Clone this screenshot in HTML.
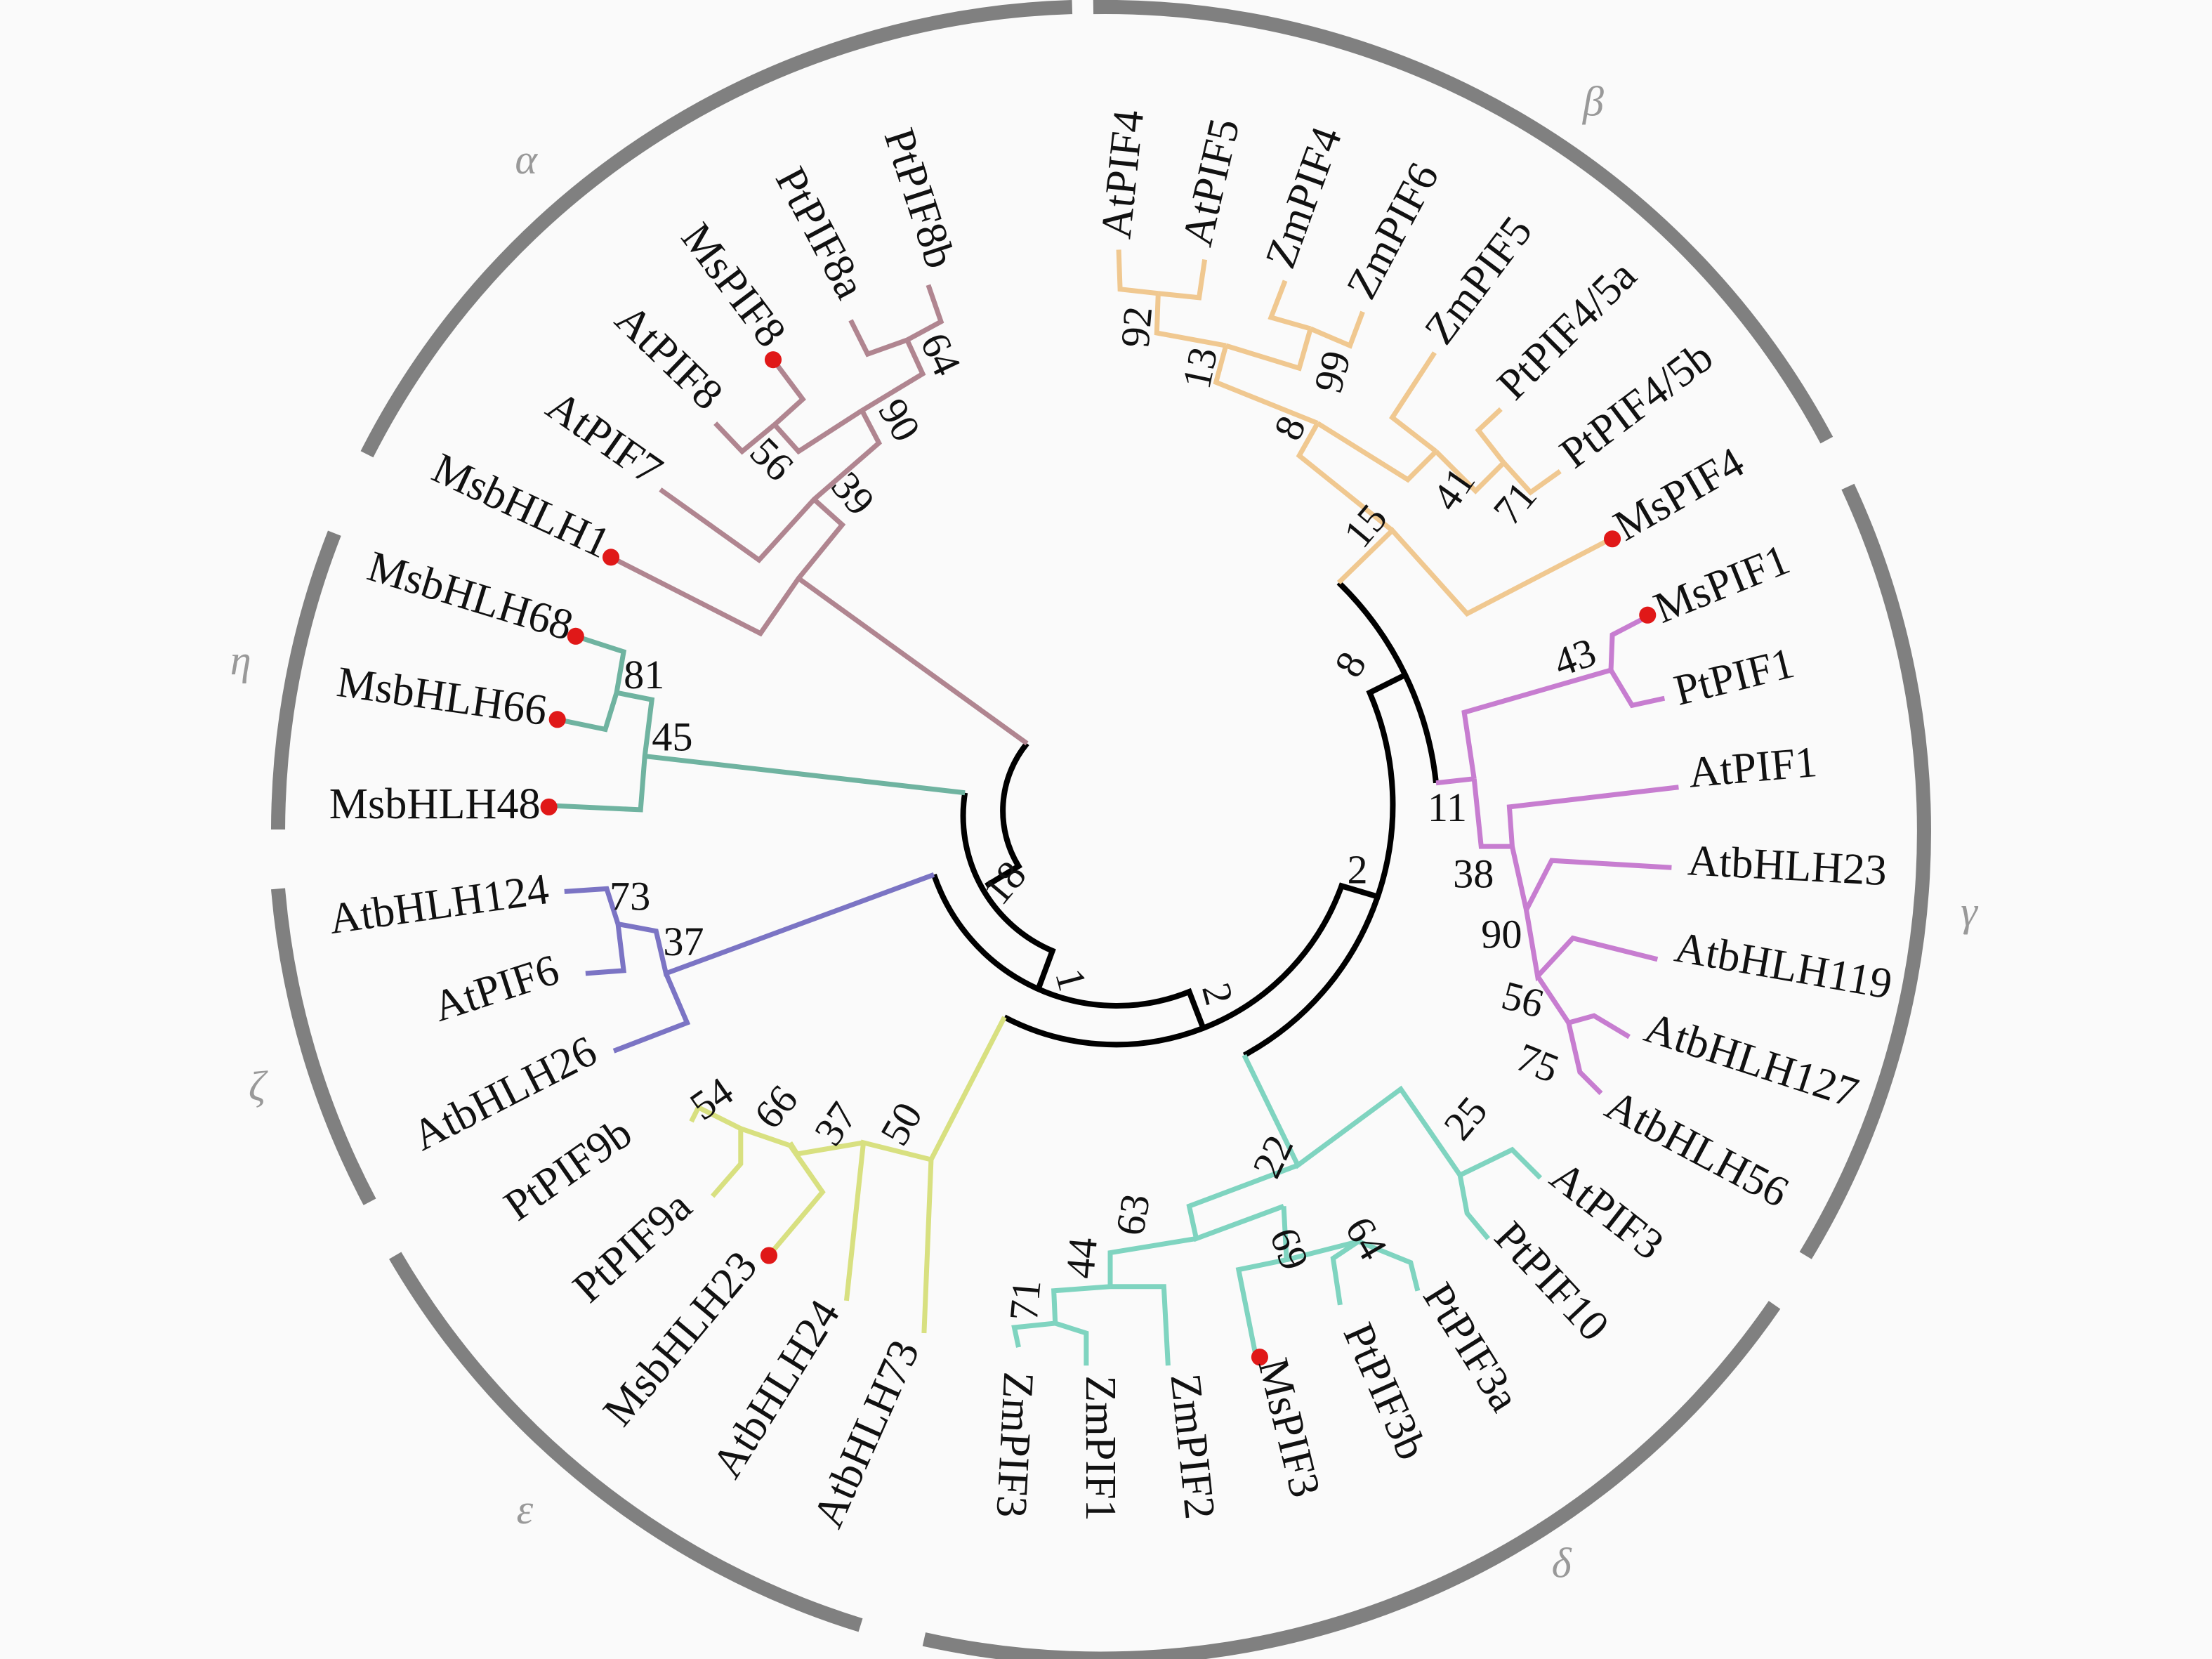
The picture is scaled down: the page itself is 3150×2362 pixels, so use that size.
<!DOCTYPE html>
<html><head><meta charset="utf-8"><style>
html,body{margin:0;padding:0;background:#fafafa;}
svg{display:block}
text{font-family:"Liberation Serif",serif;fill:#111;}
.l{font-size:31px}
.n{font-size:29px}
.g{font-size:30px;fill:#999;font-style:italic}
</style></head><body>
<svg width="3150" height="2362" viewBox="0 0 1568 1176" xmlns="http://www.w3.org/2000/svg">
<rect width="1568" height="1176" fill="#fafafa"/>
<g fill="none" stroke="#808080" stroke-width="10">
<path d="M775,5 A580,580 0 0 1 1295,312"/>
<path d="M1310,345 A580,580 0 0 1 1280,890"/>
<path d="M1258,925 A580,580 0 0 1 655,1162"/>
<path d="M610,1152 A580,580 0 0 1 280,890"/>
<path d="M262,852 A580,580 0 0 1 197,630"/>
<path d="M197,588 A580,580 0 0 1 237,378"/>
<path d="M260,322 A580,580 0 0 1 760,5"/>
</g>
<text class="g" x="365" y="123">α</text>
<text class="g" x="1122" y="82">β</text>
<text class="g" x="1390" y="656">γ</text>
<text class="g" x="1100" y="1118">δ</text>
<text class="g" x="366" y="1080">ε</text>
<text class="g" x="176" y="780">ζ</text>
<text class="g" x="163" y="478">η</text>

<g fill="none" stroke="#000" stroke-width="4">
<path d="M728,527 A75,75 0 0 0 722,614 L699,628"/>
<path d="M684,562 A104,104 0 0 0 746,674 L736,701"/>
<path d="M662,620 A137,137 0 0 0 843,703 L853,729"/>
<path d="M712,721 A170,170 0 0 0 951,628 L978,636"/>
<path d="M882,748 A202,202 0 0 0 971,491 L995,479"/>
<path d="M1018,555 A232,232 0 0 0 949,413"/>
</g>
<g class="n">
<text transform="translate(710,643) rotate(-50)">18</text>
<text transform="translate(748,690) rotate(75)">1</text>
<text transform="translate(852,700) rotate(75)">2</text>
<text x="955" y="626">2</text>
<text transform="translate(962,482) rotate(-60)">8</text>
<text x="1012" y="582">11</text>
</g>

<g fill="none" stroke="#b08590" stroke-width="3.5">
<polyline points="728,527 566,410"/>
<polyline points="433,395 539,449 566,410 597,372 577,354"/>
<polyline points="468,347 538,397 577,354 623,314 611,291"/>
<polyline points="611,291 654,265 643,241"/>
<polyline points="643,241 615,251 603,227"/>
<polyline points="643,241 667,228 658,202"/>
<polyline points="611,291 566,320 549,301"/>
<polyline points="507,300 526,320 549,301 569,283 548,255"/>
</g>
<g fill="none" stroke="#6fb3a0" stroke-width="3.5">
<polyline points="684,562 457,536"/>
<polyline points="408,451 442,462 437,491 429,517 395,510"/>
<polyline points="437,491 462,496 457,536 454,574 390,571"/>
</g>
<g fill="none" stroke="#f0c890" stroke-width="3.5">
<polyline points="949,413 987,376 1040,435 1142,382"/>
<polyline points="987,376 921,323 934,300"/>
<polyline points="934,300 862,271 869,245"/>
<polyline points="934,300 998,340 1018,320"/>
<polyline points="1018,320 987,296 1017,250"/>
<polyline points="1018,320 1046,348 1066,328 1048,305 1064,290"/>
<polyline points="1066,328 1085,349 1106,334"/>
<polyline points="869,245 820,236 821,208"/>
<polyline points="869,245 921,261 929,233"/>
<polyline points="821,208 794,205 793,177"/>
<polyline points="821,208 850,211 854,184"/>
<polyline points="929,233 901,225 911,199"/>
<polyline points="929,233 957,245 966,221"/>
</g>
<g fill="none" stroke="#c77dd0" stroke-width="3.5">
<polyline points="1018,555 1045,552"/>
<polyline points="1045,552 1038,505 1142,475 1143,450 1168,437"/>
<polyline points="1142,475 1157,500 1180,495"/>
<polyline points="1045,552 1050,600 1072,600 1070,572 1190,558"/>
<polyline points="1072,600 1082,645 1100,610 1185,615"/>
<polyline points="1082,645 1090,692 1115,665 1175,680"/>
<polyline points="1090,692 1112,725 1130,720 1155,735"/>
<polyline points="1112,725 1120,760 1135,775"/>
</g>
<g fill="none" stroke="#7fd4c0" stroke-width="3.5">
<polyline points="882,748 920,826 993,772 1035,833"/>
<polyline points="1035,833 1072,815 1092,835"/>
<polyline points="1035,833 1040,860 1055,878"/>
<polyline points="920,826 843,855 848,878 910,855"/>
<polyline points="910,855 912,893 878,900 890,960"/>
<polyline points="912,893 963,880 945,892 950,925"/>
<polyline points="963,880 1000,895 1005,915"/>
<polyline points="848,878 787,888 787,912"/>
<polyline points="787,912 747,915 748,938 719,941 722,955"/>
<polyline points="748,938 770,945 770,968"/>
<polyline points="787,912 825,912 828,968"/>
</g>
<g fill="none" stroke="#d8e080" stroke-width="3.5">
<polyline points="712,721 660,822 655,945"/>
<polyline points="660,822 612,810 600,922"/>
<polyline points="612,810 565,818 560,810"/>
<polyline points="560,812 583,845 545,890"/>
<polyline points="560,812 525,800 525,825 505,848"/>
<polyline points="525,800 495,785 490,795"/>
</g>
<g fill="none" stroke="#7b74c4" stroke-width="3.5">
<polyline points="662,620 472,690 465,660 438,655"/>
<polyline points="438,655 430,630 400,632"/>
<polyline points="438,655 442,688 415,690"/>
<polyline points="472,690 487,725 435,745"/>
</g>

<g fill="#e01818">
<circle cx="548" cy="255" r="6"/><circle cx="433" cy="395" r="6"/>
<circle cx="408" cy="451" r="6"/><circle cx="395" cy="510" r="6"/>
<circle cx="389" cy="572" r="6"/><circle cx="545" cy="890" r="6"/>
<circle cx="893" cy="962" r="6"/><circle cx="1168" cy="436" r="6"/>
<circle cx="1143" cy="382" r="6"/>
</g>

<g class="n">
<text transform="translate(652,242) rotate(65)">64</text>
<text transform="translate(622,290) rotate(60)">90</text>
<text transform="translate(588,345) rotate(50)">39</text>
<text transform="translate(530,322) rotate(45)">56</text>
<text x="442" y="488">81</text>
<text x="462" y="532">45</text>
<text transform="translate(814,247) rotate(-85)">92</text>
<text transform="translate(857,277) rotate(-78)">13</text>
<text transform="translate(920,314) rotate(-65)">8</text>
<text transform="translate(966,390) rotate(-50)">15</text>
<text transform="translate(950,280) rotate(-75)">99</text>
<text transform="translate(1030,364) rotate(-55)">41</text>
<text transform="translate(1072,374) rotate(-50)">71</text>
<text transform="translate(1106,480) rotate(-20)">43</text>
<text x="1030" y="629">38</text>
<text x="1050" y="672">90</text>
<text transform="translate(1063,714) rotate(15)">56</text>
<text transform="translate(1073,757) rotate(22)">75</text>
<text transform="translate(1037,810) rotate(-50)">25</text>
<text transform="translate(905,837) rotate(-65)">22</text>
<text transform="translate(810,877) rotate(-80)">63</text>
<text transform="translate(900,875) rotate(70)">69</text>
<text transform="translate(953,870) rotate(60)">64</text>
<text transform="translate(775,907) rotate(-85)">44</text>
<text transform="translate(735,937) rotate(-85)">71</text>
<text transform="translate(640,814) rotate(-60)">50</text>
<text transform="translate(592,814) rotate(-55)">37</text>
<text transform="translate(548,802) rotate(-50)">66</text>
<text transform="translate(498,795) rotate(-35)">54</text>
<text x="470" y="677">37</text>
<text x="432" y="645">73</text>
</g>

<g class="l">
<text transform="translate(801,170) rotate(-84)">AtPIF4</text>
<text transform="translate(858,176) rotate(-77)">AtPIF5</text>
<text transform="translate(916,192) rotate(-70)">ZmPIF4</text>
<text transform="translate(972,214) rotate(-62)">ZmPIF6</text>
<text transform="translate(1025,246) rotate(-53)">ZmPIF5</text>
<text transform="translate(1074,285) rotate(-45)">PtPIF4/5a</text>
<text transform="translate(1116,333) rotate(-37)">PtPIF4/5b</text>
<text transform="translate(1152,384) rotate(-30)">MsPIF4</text>
<text transform="translate(1178,442) rotate(-22)">MsPIF1</text>
<text transform="translate(1190,500) rotate(-14)">PtPIF1</text>
<text transform="translate(1198,558) rotate(-5)">AtPIF1</text>
<text transform="translate(1196,620) rotate(3)">AtbHLH23</text>
<text transform="translate(1186,681) rotate(10)">AtbHLH119</text>
<text transform="translate(1164,737) rotate(18)">AtbHLH127</text>
<text transform="translate(1136,790) rotate(28)">AtbHLH56</text>
<text transform="translate(1097,838) rotate(38)">AtPIF3</text>
<text transform="translate(1058,878) rotate(47)">PtPIF10</text>
<text transform="translate(1008,918) rotate(58)">PtPIF3a</text>
<text transform="translate(952,944) rotate(66)">PtPIF3b</text>
<text transform="translate(892,966) rotate(76)">MsPIF3</text>
<text transform="translate(830,975) rotate(84)">ZmPIF2</text>
<text transform="translate(770,975) rotate(90)">ZmPIF1</text>
<text transform="translate(712,972) rotate(93)">ZmPIF3</text>
</g>
<g class="l" text-anchor="end">
<text transform="translate(652,956) rotate(-66)">AtbHLH73</text>
<text transform="translate(596,930) rotate(-58)">AtbHLH24</text>
<text transform="translate(538,898) rotate(-50)">MsbHLH23</text>
<text transform="translate(492,858) rotate(-42)">PtPIF9a</text>
<text transform="translate(450,808) rotate(-35)">PtPIF9b</text>
<text transform="translate(425,752) rotate(-27)">AtbHLH26</text>
<text transform="translate(398,696) rotate(-18)">AtPIF6</text>
<text transform="translate(390,640) rotate(-8)">AtbHLH124</text>
<text transform="translate(383,580)">MsbHLH48</text>
<text transform="translate(386,514) rotate(8)">MsbHLH66</text>
<text transform="translate(402,454) rotate(17)">MsbHLH68</text>
<text transform="translate(426,396) rotate(25)">MsbHLH1</text>
<text transform="translate(460,345) rotate(35)">AtPIF7</text>
<text transform="translate(500,292) rotate(44)">AtPIF8</text>
<text transform="translate(542,248) rotate(53)">MsPIF8</text>
<text transform="translate(596,214) rotate(62)">PtPIF8a</text>
<text transform="translate(658,192) rotate(72)">PtPIF8b</text>
</g>
</svg>
</body></html>
